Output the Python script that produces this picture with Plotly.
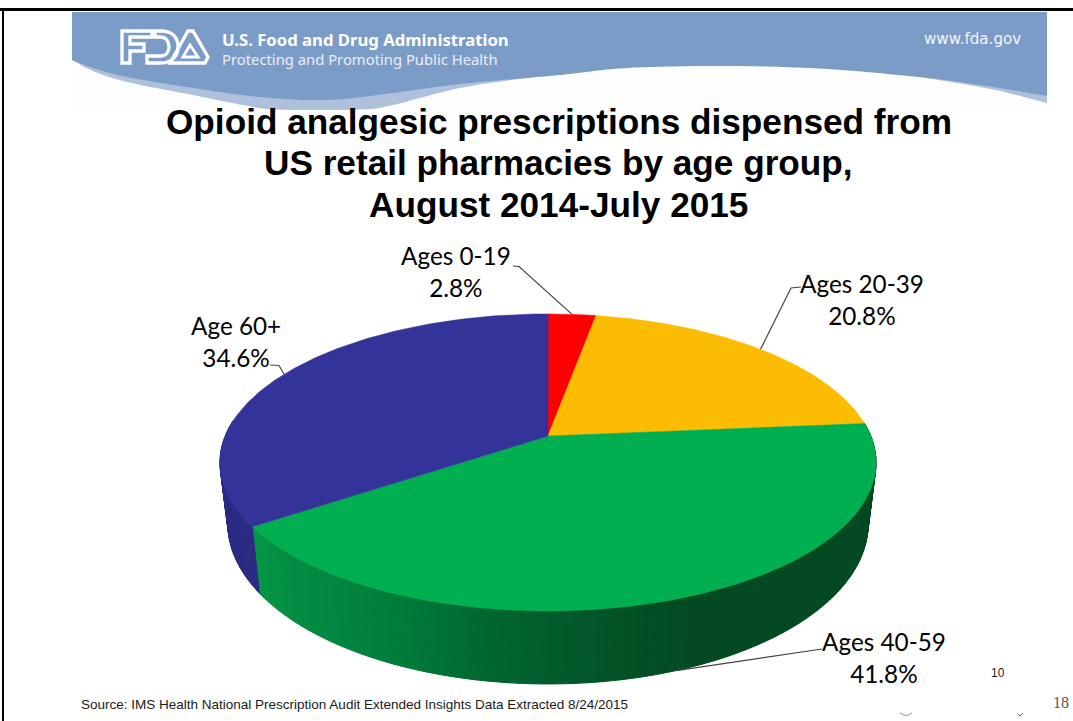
import numpy as np
import plotly.graph_objects as go

# Share of opioid analgesic prescriptions by age group (percent)
categories = ["Ages 0-19", "Ages 20-39", "Ages 40-59", "Age 60+"]
shares = [2.8, 20.8, 41.8, 34.6]
top_colors = ["#FF0000", "#FBBC02", "#00B050", "#333399"]

title_lines = [
    "Opioid analgesic prescriptions dispensed from",
    "US retail pharmacies by age group,",
    "August 2014-July 2015",
]
source_note = "Source: IMS Health National Prescription Audit Extended Insights Data Extracted 8/24/2015"

W, H = 1073, 721

# Perspective disc: apex position, half width, half depth, foreshortening
TOP = dict(cx=548.0, cy=436.0, w=322.8, h=143.8, k=0.178)
BOTTOM = dict(cx=548.0, cy=495.4, w=315.0, h=155.0, k=0.178)


def project(theta_deg, disc):
    t = np.radians(theta_deg)
    u, v = np.sin(t), np.cos(t)
    d = 1 + disc["k"] * v
    return disc["cx"] + disc["w"] * u / d, disc["cy"] - disc["h"] * v / d


# Shading of the green rim from left to right
rim_x = [250, 300, 400, 490, 580, 650, 700, 880]
rim_r = [6, 2, 0, 0, 2, 3, 3, 3]
rim_g = [152, 140, 124, 102, 88, 78, 73, 73]
rim_b = [72, 66, 58, 48, 42, 36, 33, 33]


def rim_color(x, slice_index):
    if slice_index == 2:
        r = np.interp(x, rim_x, rim_r)
        g = np.interp(x, rim_x, rim_g)
        b = np.interp(x, rim_x, rim_b)
        return f"rgb({r:.0f},{g:.0f},{b:.0f})"
    if slice_index == 3:
        return "#2B2B84"
    return top_colors[slice_index]


cum = np.concatenate([[0], np.cumsum(shares)]) * 3.6
fig = go.Figure()

# Rim strips first, so the top faces cover whatever lies behind them
for i in range(len(shares)):
    th = np.arange(cum[i], cum[i + 1] + 1.0, 1.0)
    th[-1] = cum[i + 1]
    th = th[np.cos(np.radians(th)) < 0.12]
    for a, b in zip(th[:-1], th[1:]):
        x1, y1 = project(np.array([a, b]), TOP)
        x2, y2 = project(np.array([b, a]), BOTTOM)
        col = rim_color(x2.mean(), i)
        fig.add_trace(go.Scatter(
            x=np.r_[x1, x2, x1[0]], y=np.r_[y1, y2, y1[0]], mode="lines",
            fill="toself", fillcolor=col, line=dict(color=col, width=1),
            hoverinfo="skip", showlegend=False))

# Top faces of the wedges
for i, cat in enumerate(categories):
    th = np.linspace(cum[i], cum[i + 1], 160)
    x, y = project(th, TOP)
    fig.add_trace(go.Scatter(
        x=np.r_[TOP["cx"], x, TOP["cx"]], y=np.r_[TOP["cy"], y, TOP["cy"]],
        mode="lines", fill="toself", fillcolor=top_colors[i],
        line=dict(color=top_colors[i], width=0.5), name=cat,
        hoverinfo="name", showlegend=False))

# Leader lines run from each label's elbow to the middle of its wedge
mids = (cum[:-1] + cum[1:]) / 2
leader_start = [(513, 266), (801, 287), (822, 649), (270, 365)]
leader_elbow = [(519, 266.5), (791, 288), (808, 651), (279, 365.5)]
leader_disc = [TOP, TOP, BOTTOM, TOP]
for m, s, e, d in zip(mids, leader_start, leader_elbow, leader_disc):
    ex, ey = project(m, d)
    fig.add_trace(go.Scatter(
        x=[s[0], e[0], float(ex)], y=[s[1], e[1], float(ey)], mode="lines",
        line=dict(color="#444444", width=1.2), hoverinfo="skip", showlegend=False))


def smooth(points, n=24):
    """Catmull-Rom curve through the points, sampled as an SVG polyline."""
    p = np.array(points, float)
    p = np.vstack([2 * p[0] - p[1], p, 2 * p[-1] - p[-2]])
    out = []
    for j in range(1, len(p) - 2):
        for t in np.linspace(0, 1, n, endpoint=False):
            out.append(0.5 * ((2 * p[j]) + (p[j + 1] - p[j - 1]) * t
                              + (2 * p[j - 1] - 5 * p[j] + 4 * p[j + 1] - p[j + 2]) * t ** 2
                              + (3 * p[j] - p[j - 1] - 3 * p[j + 1] + p[j + 2]) * t ** 3))
    out.append(p[-2])
    return out


def poly(points, closed=True):
    path = "M" + " L".join(f"{x:.1f},{y:.1f}" for x, y in points)
    return path + (" Z" if closed else "")


# Header band: the dark upper band, the pale swoosh below it
dark_edge = [(72, 60), (93, 68), (127, 77), (193, 88), (260, 97), (327, 100), (393, 93),
             (460, 84), (560, 75), (627, 68), (727, 66), (827, 69), (927, 78), (993, 87), (1047, 96)]
light_edge = [(72, 60), (93, 71), (127, 82), (193, 95), (243, 105), (277, 109.5), (360, 109.5),
              (393, 105), (460, 88), (540, 76)]
light_right = [(927, 78), (993, 89.5), (1047, 103)]

shapes = [
    dict(type="rect", x0=72, x1=1047, y0=12, y1=110, fillcolor="#FDFDFD", line_width=0),
    dict(type="path", path=poly(smooth(light_edge)), fillcolor="#AEC0DC", line_width=0),
    dict(type="path", path=poly(smooth(light_right) + [(1047, 90)]), fillcolor="#AEC0DC", line_width=0),
    dict(type="path", path=poly([(72, 12)] + smooth(dark_edge) + [(1047, 12)]),
         fillcolor="#7C9CC8", line_width=0),
    # Slide frame
    dict(type="rect", x0=0, x1=W, y0=8, y1=11, fillcolor="#000000", line_width=0),
    dict(type="rect", x0=2, x1=4, y0=8, y1=H, fillcolor="#000000", line_width=0),
]

# Outlined FDA letters in the header
logo_paths = [
    "M122,63 V31 H152 V37 H130 V44 H144 V51 H130 V63 Z",
    "M147,63 V56 H160 C166,56 169,52 169,47 C169,41 166,37 160,37 H155 V31 H161 "
    "C172,31 178,37 178,47 C178,56 172,63 161,63 Z",
    "M170,63 L188,31 H193 L208,57 L205,63 Z",
]
for p in logo_paths:
    shapes.append(dict(type="path", path=p, fillcolor="rgba(0,0,0,0)",
                       line=dict(color="#FFFFFF", width=3.3)))
shapes.append(dict(type="path", path="M183,57 L190,45 L198,57 Z", fillcolor="rgba(0,0,0,0)",
                   line=dict(color="#FFFFFF", width=2.8)))

# Scraps of text cut off at the foot of the page
shapes.append(dict(type="path", path=poly(smooth([(900, 713), (906, 715.5), (912, 713)], 6), closed=False),
                   line=dict(color="#777777", width=0.8)))
shapes.append(dict(type="path", path="M1018,714 L1020,716 L1023,713",
                   line=dict(color="#555555", width=0.9)))
for s in shapes:
    s.update(xref="x", yref="y")
    s["layer"] = "below"

annotations = []


def label(text, x, y, font, size, color="#000000", anchor="center", **font_kw):
    annotations.append(dict(text=text, x=x, y=y, xref="x", yref="y", showarrow=False,
                            xanchor=anchor, yanchor="middle", align="center",
                            font=dict(family=font, size=size, color=color, **font_kw)))


label("U.S. Food and Drug Administration", 220, 39, "Noto Sans", 16.7, "#FFFFFF", "left", weight="bold")
label("Protecting and Promoting Public Health", 220, 58.5, "Noto Sans", 14.8, "#E8EEF7", "left")
label("www.fda.gov", 922, 38.5, "DejaVu Sans", 15.1, "#F2F5FA", "left")

for line, y in zip(title_lines, [121, 162, 204]):
    label(line, 558.5, y, "Liberation Sans", 35.2, "#000000", weight="bold")

label_pos = [(456, 271.5), (862, 299.5), (884, 657.5), (235.5, 341.5)]
for cat, val, (x, y) in zip(categories, shares, label_pos):
    label(f"{cat}<br>{val}%", x, y, "Lato", 24.3, "#000000")

label(source_note, 79, 704.5, "Liberation Sans", 13.5, "#1A1A1A", "left")
label("10", 998, 672.5, "Liberation Sans", 12, "#222222")
label("18", 1061, 702, "Liberation Serif", 16, "#555555")

fig.update_layout(
    width=W, height=H, margin=dict(l=0, r=0, t=0, b=0, pad=0),
    paper_bgcolor="#FFFFFF", plot_bgcolor="#FFFFFF",
    xaxis=dict(range=[0, W], visible=False, fixedrange=True),
    yaxis=dict(range=[H, 0], visible=False, fixedrange=True),
    shapes=shapes, annotations=annotations, showlegend=False,
)
fig.write_html("out.html", config=dict(displayModeBar=False))
